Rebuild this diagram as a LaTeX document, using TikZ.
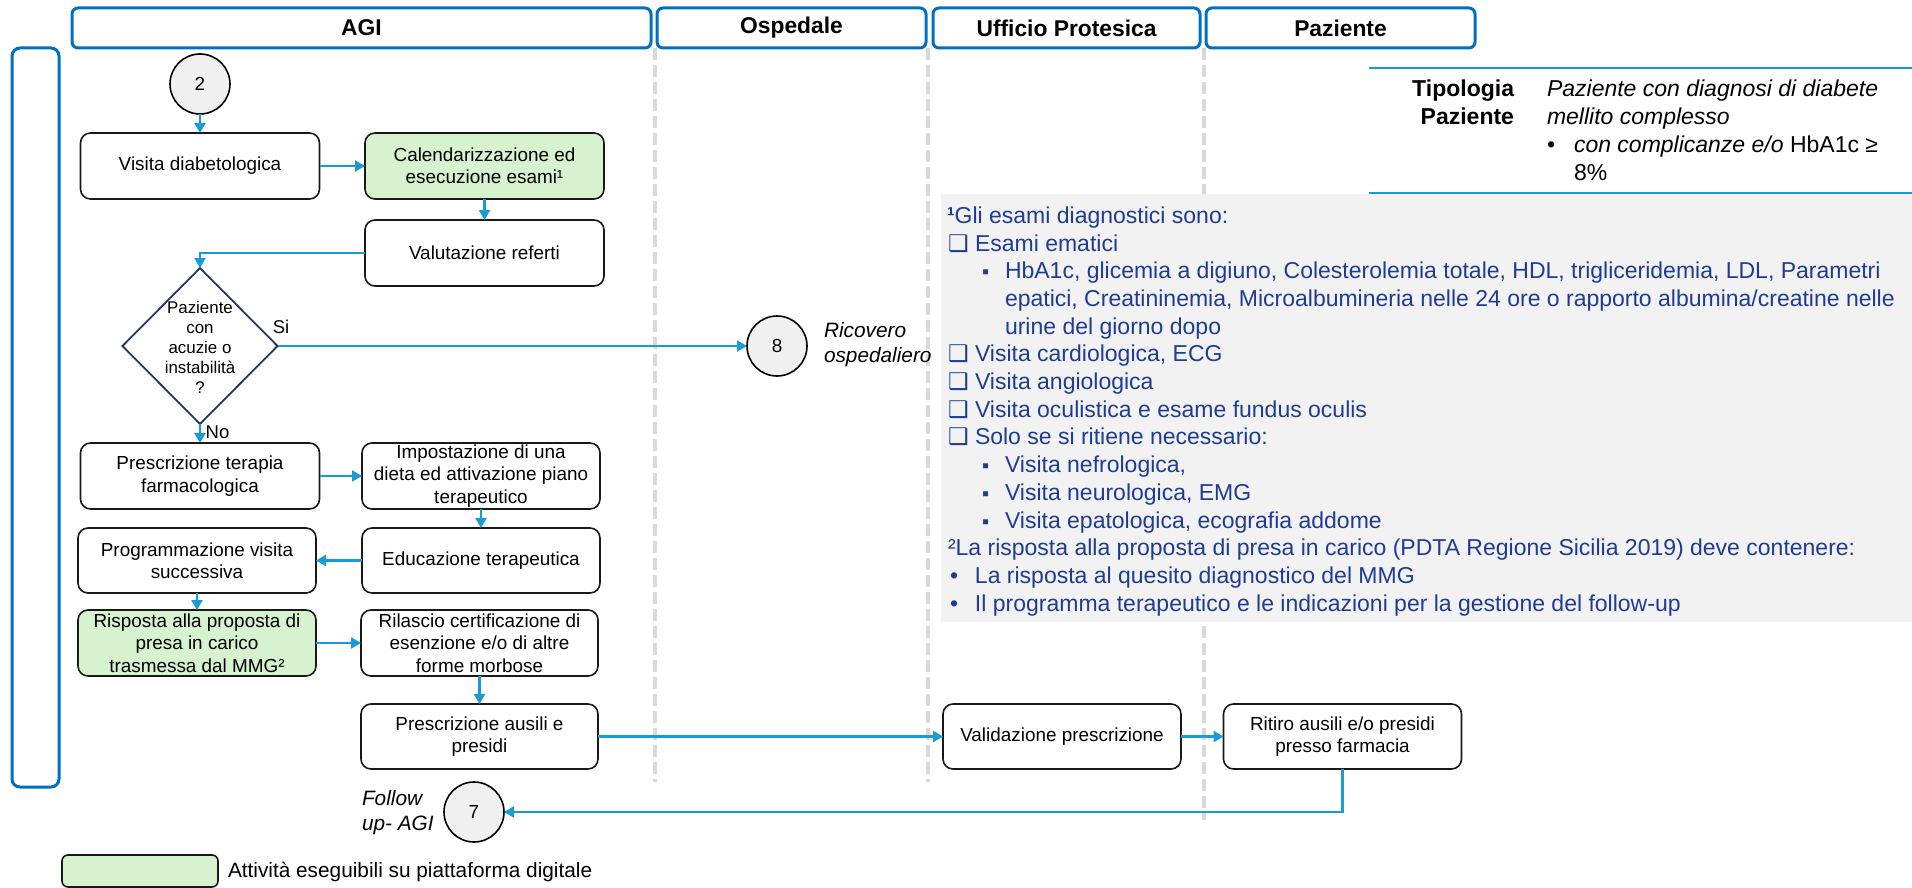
\documentclass[tikz,border=0pt]{standalone}
\usepackage{fontspec}
\setmainfont{Liberation Sans}
\newfontfamily\djv{DejaVu Sans}
\usetikzlibrary{shapes.geometric,arrows.meta}

\definecolor{laneblue}{HTML}{0070C0}
\definecolor{flowblue}{HTML}{1A9AD7}
\definecolor{navy}{HTML}{1F3864}
\definecolor{digigreen}{HTML}{D6F2CE}
\definecolor{notegray}{HTML}{F2F2F2}
\definecolor{notetext}{HTML}{1F3C92}
\definecolor{lanedash}{HTML}{D9D9D9}
\definecolor{circfill}{HTML}{F0F0F0}

\newcommand{\chkbox}{\makebox[27pt][l]{\djv\fontsize{23}{22}\selectfont ❑}}
\newcommand{\sqbul}{\makebox[23pt][l]{\fontsize{20}{22}\selectfont ▪}}
\newcommand{\rndbul}{\makebox[25pt][l]{•}}

\begin{document}
\begin{tikzpicture}[x=1pt,y=-1pt,
  every node/.style={inner sep=0pt,outer sep=0pt},
  lanehead/.style={draw=laneblue,line width=3pt,rounded corners=6pt,fill=white,
    minimum height=40pt,font=\fontsize{22.8}{26}\selectfont\bfseries},
  lanesep/.style={draw=lanedash,line width=3.5pt,dash pattern=on 12pt off 5pt},
  stepbox/.style={draw=black!90,line width=1.6pt,rounded corners=10pt,fill=white,
    align=center,minimum width=238pt,minimum height=66pt,
    font=\fontsize{18.9}{22.4}\selectfont},
  digital/.style={stepbox,fill=digigreen},
  link/.style={draw=flowblue,line width=2.4pt,-{Triangle[length=10pt,width=11pt]}},
  onpage/.style={circle,draw=black,line width=1.6pt,fill=circfill,minimum size=60pt,
    font=\fontsize{18.9}{22}\selectfont},
  flowlabel/.style={font=\fontsize{18.5}{21}\selectfont},
  ital/.style={font=\fontsize{20.8}{25}\selectfont\itshape,align=left},
  note/.style={font=\fontsize{23}{27.7}\selectfont,text=notetext,anchor=base west},
  tipo/.style={font=\fontsize{23}{28}\selectfont,anchor=base west},
]
\useasboundingbox (0,0) rectangle (1912,888);

% lane separators
\draw[lanesep] (655,48) -- (655,782);
\draw[lanesep] (928,48) -- (928,782);
\draw[lanesep] (1204,48) -- (1204,820);

% notes panel
\node[fill=notegray,minimum width=971pt,minimum height=428pt,anchor=north west] (panel) at (941,194) {};

% patient type block
\draw[flowblue,line width=2.5pt] (1369,68) -- (1912,68);
\draw[flowblue,line width=2.5pt] (1369,193) -- (1912,193);
\node[tipo,anchor=base east,font=\fontsize{23}{28}\selectfont\bfseries] (tip1) at (1514,97) {Tipologia};
\node[tipo,anchor=base east,font=\fontsize{23}{28}\selectfont\bfseries] (tip2) at (1514,125) {Paziente};
\node[tipo,font=\fontsize{23}{28}\selectfont\itshape] (tip3) at (1547,97) {Paziente con diagnosi di diabete};
\node[tipo,font=\fontsize{23}{28}\selectfont\itshape] (tip4) at (1547,125) {mellito complesso};
\node[tipo] (tip5) at (1547,153) {\makebox[27pt][l]{•}\textit{con complicanze e/o} HbA1c ≥};
\node[tipo] (tip6) at (1574,181) {8\%};

% lane headers
\node[lanehead,minimum width=579pt] (hagi) at (361.5,28) {AGI};
\node[lanehead,minimum width=269pt] (hosp) at (791.5,28) {Ospedale};
\node[lanehead,minimum width=267pt] (hupr) at (1066.5,28) {Ufficio Protesica};
\node[lanehead,minimum width=269pt] (hpaz) at (1340.5,28) {Paziente};
\node[draw=laneblue,line width=3pt,rounded corners=8pt,minimum width=47pt,minimum height=739pt] (side) at (35.5,417.5) {};

% notes text
\node[note] (n1) at (947,223.3) {\textbf{¹}Gli esami diagnostici sono:};
\node[note] (n2) at (948,251) {\chkbox Esami ematici};
\node[note] (n3) at (982,278.7) {\sqbul HbA1c, glicemia a digiuno, Colesterolemia totale, HDL, trigliceridemia, LDL, Parametri};
\node[note] (n4) at (1005,306.4) {epatici, Creatininemia, Microalbumineria nelle 24 ore o rapporto albumina/creatine nelle};
\node[note] (n5) at (1005,334.1) {urine del giorno dopo};
\node[note] (n6) at (948,361.8) {\chkbox Visita cardiologica, ECG};
\node[note] (n7) at (948,389.5) {\chkbox Visita angiologica};
\node[note] (n8) at (948,417.2) {\chkbox Visita oculistica e esame fundus oculis};
\node[note] (n9) at (948,444.9) {\chkbox Solo se si ritiene necessario:};
\node[note] (n10) at (982,472.6) {\sqbul Visita nefrologica,};
\node[note] (n11) at (982,500.3) {\sqbul Visita neurologica, EMG};
\node[note] (n12) at (982,528) {\sqbul Visita epatologica, ecografia addome};
\node[note] (n13) at (948,555.7) {²La risposta alla proposta di presa in carico (PDTA Regione Sicilia 2019) deve contenere:};
\node[note] (n14) at (950,583.4) {\rndbul La risposta al quesito diagnostico del MMG};
\node[note] (n15) at (950,611.1) {\rndbul Il programma terapeutico e le indicazioni per la gestione del follow-up};

% process steps
\node[onpage] (c2) at (200,84) {2};
\node[stepbox,minimum width=239pt] (vd) at (200,166) {Visita diabetologica};
\node[digital,minimum width=239pt] (cal) at (484.5,166) {Calendarizzazione ed\\esecuzione esami¹};
\node[stepbox,minimum width=239pt] (val) at (484.5,253) {Valutazione referti};
\node[diamond,draw=navy,line width=1.8pt,fill=white,minimum width=155pt,minimum height=156pt] (dia) at (200,346) {};
\node[align=center,font=\fontsize{16.9}{20}\selectfont] (diatxt) at (200,347) {Paziente\\con\\acuzie o\\instabilità\\?};
\node[onpage] (c8) at (777,346) {8};
\node[ital,anchor=west] (ric) at (824,344.5) {Ricovero\\ospedaliero};
\node[stepbox,minimum width=239pt] (pt) at (200,476) {Prescrizione terapia\\farmacologica};
\node[stepbox] (imp) at (481,476) {Impostazione di una\\dieta ed attivazione piano\\terapeutico};
\node[stepbox,minimum height=65pt] (edu) at (481,560.5) {Educazione terapeutica};
\node[stepbox,minimum height=65pt] (prog) at (197,560.5) {Programmazione visita\\successiva};
\node[digital] (risp) at (197,643) {Risposta alla proposta di\\presa in carico\\trasmessa dal MMG²};
\node[stepbox,minimum width=237pt] (ril) at (479.5,643) {Rilascio certificazione di\\esenzione e/o di altre\\forme morbose};
\node[stepbox,minimum width=237pt,minimum height=65pt] (pau) at (479.5,736.5) {Prescrizione ausili e\\presidi};
\node[stepbox,minimum height=65pt] (valp) at (1062,736.5) {Validazione prescrizione};
\node[stepbox,minimum height=65pt] (rit) at (1342.5,736.5) {Ritiro ausili e/o presidi\\presso farmacia};
\node[onpage] (c7) at (474,812) {7};
\node[ital,anchor=west] (fol) at (362,812.5) {Follow\\up- AGI};

% connectors
\draw[link] (c2.south) -- (vd.north);
\draw[link] (vd.east) -- (cal.west);
\draw[link] (cal.south) -- (val.north);
\draw[link] (val.west) -| (dia.north);
\draw[link] (dia.east) -- (c8.west);
\draw[link] (dia.south) -- (pt.north);
\draw[link] (pt.east) -- (imp.west);
\draw[link] (imp.south) -- (edu.north);
\draw[link] (edu.west) -- (prog.east);
\draw[link] (prog.south) -- (risp.north);
\draw[link] (risp.east) -- (ril.west);
\draw[link] (ril.south) -- (pau.north);
\draw[link] (pau.east) -- (valp.west);
\draw[link] (valp.east) -- (rit.west);
\draw[link] (rit.south) |- (c7.east);
\node[flowlabel] (si) at (281,327) {Si};
\node[flowlabel] (no) at (217.5,432) {No};

% legend
\node[digital,minimum width=156pt,minimum height=32pt,rounded corners=6pt] (leg) at (140,871) {};
\node[font=\fontsize{20.8}{24}\selectfont,anchor=west] (legtxt) at (228,872) {Attività eseguibili su piattaforma digitale};
\end{tikzpicture}
\end{document}
